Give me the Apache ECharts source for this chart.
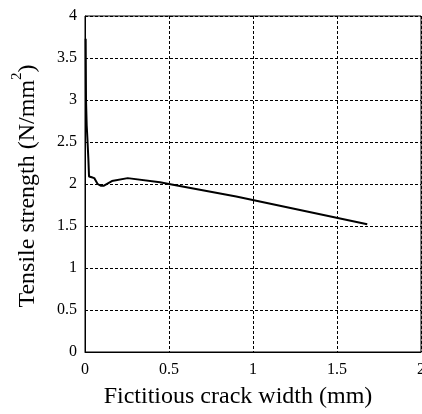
<!DOCTYPE html>
<html><head><meta charset="utf-8">
<script src="https://cdn.jsdelivr.net/npm/echarts@6/dist/echarts.min.js"></script>
<style>html,body{margin:0;padding:0;background:#fff}#c{width:422px;height:414px}</style>
</head><body><div id="c"></div>
<script>
const crackWidth = [0.004, 0.006, 0.01, 0.014, 0.02, 0.024, 0.04, 0.055, 0.075, 0.093, 0.113, 0.16, 0.254, 0.446, 0.5, 0.9, 1.68];
const tensile    = [3.73, 3.0, 2.7, 2.55, 2.3, 2.09, 2.08, 2.07, 2.0, 1.98, 1.98, 2.035, 2.07, 2.02, 2.0, 1.85, 1.52];
const xTicks = [0, 0.5, 1, 1.5, 2];
const yTicks = [0, 0.5, 1, 1.5, 2, 2.5, 3, 3.5, 4];

const font = 'Liberation Serif';
const chart = echarts.init(document.getElementById('c'));
chart.setOption({
  animation: false,
  grid: {left: 85, right: 1, top: 16, bottom: 62, containLabel: false, outerBoundsMode: 'none',
    show: true, borderColor: '#000', borderWidth: 1, backgroundColor: 'transparent'},
  xAxis: {
    type: 'value', min: xTicks[0], max: xTicks[xTicks.length-1], interval: 0.5,
    axisLine: {show: true, onZero: false, lineStyle: {color: '#000', width: 1}},
    axisTick: {show: false},
    splitLine: {show: true, lineStyle: {color: '#000', width: 1, type: [3, 2]}},
    axisLabel: {color: '#000', fontFamily: font, fontSize: 16, margin: 10,
      formatter: v => String(v)}
  },
  yAxis: {
    type: 'value', min: yTicks[0], max: yTicks[yTicks.length-1], interval: 0.5,
    axisLine: {show: true, onZero: false, lineStyle: {color: '#000', width: 1}},
    axisTick: {show: false},
    splitLine: {show: true, lineStyle: {color: '#000', width: 1, type: [3, 2]}},
    axisLabel: {color: '#000', fontFamily: font, fontSize: 16, margin: 8,
      formatter: v => String(v)}
  },
  graphic: [
    {type: 'text', x: 238, y: 397, style: {text: 'Fictitious crack width (mm)', font: '24px "Liberation Serif"', fill: '#000', align: 'center', verticalAlign: 'middle'}},
    {type: 'text', x: 25, y: 186, rotation: Math.PI/2,
      style: {text: '{b|Tensile strength (N/mm}{s|2}{b|)}', align: 'center', verticalAlign: 'middle', fill: '#000',
        rich: {b: {fontFamily: font, fontSize: 24, fill: '#000', lineHeight: 30, verticalAlign: 'bottom'},
               s: {fontFamily: font, fontSize: 15, fill: '#000', lineHeight: 30, verticalAlign: 'top', padding: [0,0,10,0]}}}}
  ],
  series: [{
    type: 'line', showSymbol: false, symbol: 'none',
    data: crackWidth.map((x, i) => [x, tensile[i]]),
    lineStyle: {color: '#000', width: 2}
  }]
});
</script></body></html>
